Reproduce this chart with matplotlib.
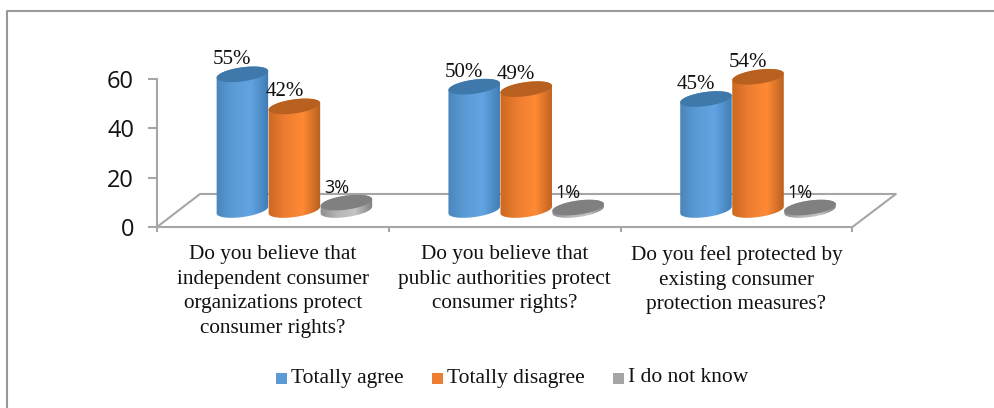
import numpy as np
import matplotlib
matplotlib.use('Agg')
import matplotlib.pyplot as plt
from matplotlib.colors import LinearSegmentedColormap
from matplotlib.lines import Line2D
from matplotlib.patches import Polygon, Rectangle

questions = ['Do you believe that\nindependent consumer\norganizations protect\nconsumer rights?',
             'Do you believe that\npublic authorities protect\nconsumer rights?',
             'Do you feel protected by\nexisting consumer\nprotection measures?']
series = ['Totally agree', 'Totally disagree', 'I do not know']
agree = [55, 50, 45]
disagree = [42, 49, 54]
dontknow = [3, 1, 1]
yticks = [0, 20, 40, 60]

W, H = 994, 408
left, right, bottom, top = 157, 900, 227, 49
cat_px = 231.8
unit_px = (227 - 79) / 60

# x/y pixel scale of the data axes
sx = cat_px
sy = unit_px
depth_x = 21.5 / sx   # bars sit half way back on the floor
depth_y = 17 / sy
TILT = np.radians(8)

fig = plt.figure(figsize=(W / 100, H / 100), dpi=100)
ax = fig.add_axes([left / W, 1 - bottom / H, (right - left) / W, (bottom - top) / H])
ax.patch.set_visible(False)
for s in ['top', 'right']:
    ax.spines[s].set_visible(False)
for s in ['left', 'bottom']:
    ax.spines[s].set_color('#a6a6a6')
    ax.spines[s].set_linewidth(1.5)
ax.spines['left'].set_bounds(0, 60)
ax.spines['bottom'].set_bounds(-0.5, 2.5)


def ellipse(cx, cy, t, a=26, b=7):
    x = a * np.cos(t) * np.cos(TILT) - b * np.sin(t) * np.sin(TILT)
    y = a * np.cos(t) * np.sin(TILT) + b * np.sin(t) * np.cos(TILT)
    return cx + x / sx, cy + y / sy


def cylinder(xc, val, colors, top_color):
    base = depth_y
    cmap = LinearSegmentedColormap.from_list('c', colors)
    # angle of the right-most point of the tilted ellipse
    t0 = np.arctan2(-7 * np.sin(TILT), 26 * np.cos(TILT))
    tx, ty = ellipse(xc, base + val, np.linspace(t0, t0 + np.pi, 40))
    bx, by = ellipse(xc, base, np.linspace(t0 + np.pi, t0 + 2 * np.pi, 40))
    poly = Polygon(np.column_stack([np.r_[tx, bx], np.r_[ty, by]]), closed=True, fc='none', ec='none')
    ax.add_patch(poly)
    grad = np.linspace(0, 1, 64).reshape(1, -1)
    im = ax.imshow(grad, cmap=cmap, aspect='auto', zorder=3,
                   extent=[xc - 27 / sx, xc + 27 / sx, base - 12 / sy, base + val + 12 / sy])
    im.set_clip_path(poly)
    ex, ey = ellipse(xc, base + val, np.linspace(0, 2 * np.pi, 80))
    ax.fill(ex, ey, color=top_color, zorder=4, lw=0)


blue = ['#4a85bc', '#5b9bd5', '#62a4e2', '#3f7cb4']
orange = ['#c9691f', '#ed7d31', '#ff8a35', '#b8601f']
grey = ['#8c8c8c', '#b5b5b5', '#c4c4c4', '#808080']
styles = [(blue, '#3f79ac'), (orange, '#b8601f'), (grey, '#808080')]
offsets = [-52 / sx, 0, 52 / sx]

# floor
fx = [-0.5 + 43 / sx, 2.5 + 43.5 / sx, 2.5]
fy = [33 / sy, 33 / sy, 0]
ax.plot([-0.5] + fx, [0] + fy, color='#a6a6a6', lw=1.5, clip_on=False, zorder=1)

for j, vals in enumerate([agree, disagree, dontknow]):
    for i, v in enumerate(vals):
        cols, tc = styles[j]
        cylinder(i + depth_x + offsets[j], v, cols, tc)

for j, vals in enumerate([agree, disagree, dontknow]):
    for i, v in enumerate(vals):
        xc = i + depth_x + offsets[j] - 10 / sx
        y = v + depth_y + 10 / sy
        if j == 2:
            ax.text(xc, y, f'{v}%', ha='center', va='baseline', fontsize=13,
                    family='Open Sans', color='#111111', zorder=6)
        else:
            ax.text(xc, y, f'{v}%', ha='center', va='baseline', fontsize=15,
                    family='Liberation Serif', color='#111111', zorder=6)

ax.set_ylim(0, (bottom - top) / sy)
ax.set_xlim(-0.5, -0.5 + (right - left) / sx)

ax.set_yticks(yticks)
ax.tick_params(axis='y', length=6.5, width=1.5, color='#a6a6a6', labelsize=17, pad=10, labelcolor='#111111')
for t in ax.get_yticklabels():
    t.set_family('Open Sans')
ax.set_xticks([-0.5, 0.5, 1.5, 2.5])
ax.set_xticklabels([])
ax.tick_params(axis='x', length=3.5, width=1.5, color='#a6a6a6')
ax.set_xticks([0, 1, 2], minor=True)
ax.set_xticklabels(questions, minor=True, family='Liberation Serif', fontsize=15.3, linespacing=1.4,
                   color='#111111')
ax.tick_params(axis='x', which='minor', length=0, pad=13)

# legend drawn by hand
leg_y = 378
for x0, name, c in zip([276, 432, 613], series, ['#5b9bd5', '#ed7d31', '#a5a5a5']):
    fig.add_artist(Rectangle((x0 / W, 1 - (leg_y + 6) / H), 11 / W, 11 / H, fc=c, ec='none',
                             transform=fig.transFigure))
    fig.text((x0 + 15) / W, 1 - leg_y / H, name, family='Liberation Serif', fontsize=15.5,
             va='center', ha='left', color='#111111')

# outer frame, only top and left show
fig.add_artist(Line2D([6.5 / W, 6.5 / W, 1], [0, 1 - 10.5 / H, 1 - 10.5 / H], color='#999999', lw=1.5,
                      transform=fig.transFigure))

fig.savefig('out.png', dpi=100)
